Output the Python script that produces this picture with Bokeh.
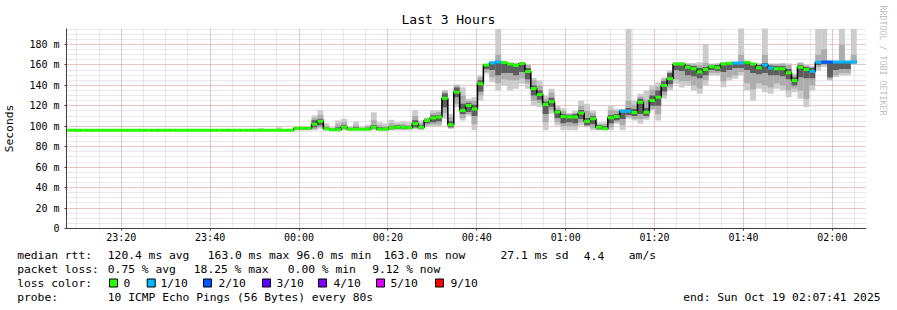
import numpy as np
from bokeh.plotting import figure
from bokeh.layouts import column
from bokeh.models import FixedTicker, Range1d, Title
from bokeh.core.properties import value
from bokeh.embed import file_html
from bokeh.resources import INLINE

# ---- time axis: minutes relative to 00:00 ----
x_start = -52.317   # 23:07:41
x_end = 127.683     # 02:07:41
first_step = -51.85
step_minutes = 80 / 60.0

x_ticks = [-40, -20, 0, 20, 40, 60, 80, 100, 120]
x_tick_labels = ["23:20", "23:40", "00:00", "00:20", "00:40", "01:00", "01:20", "01:40", "02:00"]
x_minor = list(range(-50, 130, 5))

y_ticks = [0, 20, 40, 60, 80, 100, 120, 140, 160, 180]
y_tick_labels = ["0", "20 m", "40 m", "60 m", "80 m", "100 m", "120 m", "140 m", "160 m", "180 m"]
y_minor = list(range(0, 200, 5))

# ---- data (ms), one value per 80 s step ----
median_ms = [96] * 38 + [
    98, 98, 98,
    102, 105, 97.5, 96.5, 96.5, 99, 97, 97, 97, 97,
    99, 97, 97, 98.5, 99, 99, 98.5, 102.4, 99, 105.6,
    108, 109, 127.5, 101.4, 133.4, 115.4, 120.3, 117, 141.5, 160,
    162, 163, 162.5, 161, 159.5, 161.4, 153.6, 137, 131, 121.3,
    124, 114, 109.6, 109, 109, 113, 105, 107.3, 99, 97.5,
    108.3, 109.6, 114.8, 114.8, 113.5, 123.6, 113.8, 125.2, 128.5, 140,
    146.4, 161, 161, 157.8, 156.2, 153, 155.6, 158.5, 157.2, 161,
    161.7, 162, 162, 162.7, 161, 157.2, 160, 157, 156.2, 156.2,
    152.3, 144.8, 157.8, 155.6, 153.9, 162.7, 163, 163, 163, 163,
    163, 163]

smoke_max = [96] * 32 + [98, 96, 96, 99, 96, 96] + [
    99, 98, 98.5,
    110.5, 116, 103, 99, 105.6, 107.3, 100, 104.7, 99, 101.4,
    113.8, 104, 103, 106.3, 104, 105, 104, 116, 105.6, 108,
    116, 116, 135.7, 112.2, 140.9, 138.2, 126.9, 128.5, 149.7, 161,
    164, 195.3, 162.5, 162, 162, 162, 161, 147.4, 144.8, 130,
    136.7, 120, 117.7, 113, 115, 125, 122, 115.4, 104, 104,
    120.3, 117, 117, 195.3, 125.2, 131.7, 135, 140, 143, 148,
    154.6, 162.7, 162.7, 162, 162, 162.7, 180.7, 161.5, 162, 162.7,
    162.7, 162.7, 196.3, 162.7, 162, 162, 196.3, 161.5, 161.5, 162,
    161.5, 151.3, 162.7, 160, 159, 195.3, 195.3, 163, 163, 195.3,
    163, 195.3]

smoke_min = [96] * 38 + [
    96, 96, 96,
    96, 97.5, 96, 96, 96, 96, 96, 96, 96, 96,
    96, 96, 96, 96, 96, 96, 96, 97, 96, 99,
    100, 99.8, 107.3, 97.5, 118.7, 105.6, 110.5, 96, 125.2, 151.3,
    143, 135, 140, 135, 136.6, 141.5, 136.6, 120.3, 118.7, 96,
    112.2, 100.8, 96, 96, 96, 100.8, 99, 96, 96, 96,
    96, 102.4, 96, 107.3, 105.6, 102.4, 106.3, 115.4, 105.6, 126.9,
    135, 141.5, 138, 140, 135, 131.7, 140, 149.7, 149.7, 138.2,
    144.8, 146.4, 149.7, 135, 125.2, 136.6, 133.4, 131.7, 136.6, 135,
    128.5, 133.4, 126.9, 118.7, 135, 154.6, 158, 144.8, 148, 149.7,
    149.7, 160]

mid_lo = [96] * 38 + [
    96, 96, 96,
    97, 99, 96, 96, 96, 97, 96, 96, 96, 96,
    97, 96, 96, 96.5, 97, 96.5, 97, 98, 97, 101,
    102, 102, 113, 98, 122, 108, 112, 102, 130, 153,
    148, 142, 146, 145, 145, 147, 142, 125, 123, 104,
    116, 104, 100, 100, 100, 104, 100, 98, 96.5, 96.5,
    99, 104, 101, 109, 107, 107, 108, 117, 112, 130,
    138, 146, 144, 144, 140, 137, 145, 152, 152, 144,
    148, 150, 153, 142, 136, 142, 140, 138, 142, 140,
    135, 137, 135, 127, 140, 158, 160, 146, 150, 152,
    152, 161]

core_lo = [96] * 38 + [
    97, 97, 97,
    99, 101, 96.5, 96, 96, 97.5, 96.5, 96.5, 96.5, 96.5,
    98, 96.5, 96.5, 97, 97.5, 97.5, 97.5, 99, 97.5, 103,
    104, 105, 118.7, 99, 128.5, 112, 114, 110, 134, 156,
    155, 150, 152, 152, 150, 153, 146, 130, 126, 112,
    119, 108, 103, 104, 103, 107, 101, 102, 97, 97,
    103, 106, 107, 111, 110, 112, 110, 120, 120, 134,
    141, 155, 154, 150, 149, 147, 150, 155, 154, 153,
    155, 157, 157, 155, 152, 151, 152, 150, 150, 149,
    146, 140, 148, 147, 147, 160, 161, 148, 155, 156,
    156, 162]

core_hi = [96] * 38 + [
    98.5, 98.5, 98.5,
    106, 107, 99, 97.5, 99, 101, 98, 99, 98, 98.5,
    101, 99, 98.5, 100, 101, 100.5, 100, 106, 101, 107,
    110.5, 111, 132, 105, 138, 122, 123, 121, 145, 161,
    162, 163, 162.5, 161.5, 160.5, 161.5, 157, 140, 135, 124,
    128, 116, 112, 111, 112, 116, 108, 110, 101, 100,
    111, 112, 116, 118, 117, 127, 118, 130, 135, 144,
    152, 162, 162, 160, 159, 157, 158, 160, 160, 162,
    162, 162.5, 162.5, 162.5, 162, 160, 162, 159.5, 159, 159,
    156, 148, 160, 158, 157, 163, 163, 162, 163, 163,
    163, 163]

mid_hi = [96] * 38 + [
    98.5, 98.5, 98.5,
    108, 111, 100, 98, 102, 104, 99, 101, 98.5, 100,
    106, 101, 100, 103, 102, 102, 101, 110, 103, 108,
    113, 114, 134, 109, 140, 130, 125, 125, 148, 161,
    163, 170, 162.5, 162, 161.5, 162, 160, 145, 140, 127,
    133, 118, 115, 112, 113, 120, 115, 113, 102, 102,
    116, 115, 116.5, 125, 121, 129, 126, 136, 139, 146,
    153, 162.5, 162.5, 161, 160.5, 160, 162, 161, 161, 162.5,
    162.5, 162.5, 170, 162.5, 162, 161, 170, 161, 161, 161,
    160, 150, 162, 159.5, 158, 170, 175, 163, 163, 180,
    163, 170]

loss_tenths = [0] * 133
for k in [71, 72, 93, 94, 112, 113, 117, 118, 125, 126, 129, 130, 131, 132]:
    loss_tenths[k] = 1
for k in [127, 128]:
    loss_tenths[k] = 2

loss_legend_labels = ["0", "1/10", "2/10", "3/10", "4/10", "5/10", "9/10"]
loss_legend_colors = ["#26ff00", "#00b8ff", "#0059ff", "#5e00ff", "#7e00ff", "#dd00ff", "#ff0000"]
loss_color_by_tenths = {0: "#26ff00", 1: "#00b8ff", 2: "#0059ff", 3: "#5e00ff", 4: "#7e00ff", 5: "#dd00ff", 9: "#ff0000"}

title_text = "Last 3 Hours"
y_axis_label = "Seconds"
credit_text = "RRDTOOL / TOBI OETIKER"
median_texts = ["median rtt:", "120.4 ms avg", "163.0 ms max", "96.0 ms min", "163.0 ms now",
                "27.1 ms sd", "4.4", "am/s"]
loss_texts = ["packet loss:", "0.75 % avg", "18.25 % max", "0.00 % min", "9.12 % now"]
loss_title = "loss color:"
probe_texts = ["probe:", "10 ICMP Echo Pings (56 Bytes) every 80s"]
end_text = "end: Sun Oct 19 02:07:41 2025"

# ---- layout (pixels) ----
W = 897
MONO = "DejaVu Sans Mono"
FS = "11.3px"
median_text_x = [16.7, 107.3, 207.3, 296, 383.3, 500, 583.3, 628.3]
loss_text_x = [16.7, 107.3, 193.3, 287.3, 371.7]
probe_text_x = [16.7, 107.3]
swatch_x = [109, 146.7, 203, 262, 318, 376, 435]
swatch_label_x = [123, 160, 218, 276, 333, 390, 450]
row_y = [8, 21.5, 35.5, 49.5]

# ---- main chart ----
p = figure(width=W, height=247, x_range=Range1d(x_start, x_end), y_range=Range1d(0, 195.65),
           output_backend="svg", toolbar_location=None, frame_align=False,
           min_border_left=66, min_border_right=31, min_border_top=28, min_border_bottom=19)
p.outline_line_color = None
p.background_fill_color = "white"
p.border_fill_color = "white"

n = len(median_ms)
edges = first_step + np.arange(n + 1) * step_minutes
edges[0] = x_start
left = edges[:-1]
right = edges[1:]

p.quad(left=left, right=right, bottom=smoke_min, top=smoke_max, fill_color="#cccccc", line_color=None)
p.quad(left=left, right=right, bottom=mid_lo, top=mid_hi, fill_color="#adadad", line_color=None)
p.quad(left=left, right=right, bottom=core_lo, top=core_hi, fill_color="#5e5e5e", line_color=None)

med = np.array(median_ms, dtype=float)
xs = np.repeat(edges, 2)[1:-1]
ys = np.repeat(med, 2)
p.line(xs, ys, line_color="black", line_width=1.5)

seg_colors = [loss_color_by_tenths[v] for v in loss_tenths]
p.segment(x0=left, y0=med, x1=right, y1=med, line_color=seg_colors, line_width=3)

xt = FixedTicker(ticks=x_ticks, minor_ticks=x_minor)
yt = FixedTicker(ticks=y_ticks, minor_ticks=y_minor)
p.xaxis.ticker = xt
p.yaxis.ticker = yt
p.xgrid.ticker = xt
p.ygrid.ticker = yt
p.xaxis.major_label_overrides = dict(zip(x_ticks, x_tick_labels))
p.yaxis.major_label_overrides = dict(zip(y_ticks, y_tick_labels))

for ax in (p.xaxis, p.yaxis):
    ax.axis_line_color = "#404040"
    ax.major_tick_line_color = "#404040"
    ax.major_tick_out = 2
    ax.major_tick_in = 0
    ax.minor_tick_out = 0
    ax.minor_tick_in = 0
    ax.major_label_text_font = MONO
    ax.major_label_text_font_size = "10px"
    ax.major_label_text_color = "black"
p.xaxis.major_label_standoff = 1
p.yaxis.major_label_standoff = 5
p.yaxis.axis_label = y_axis_label
p.yaxis.axis_label_text_font = MONO
p.yaxis.axis_label_text_font_size = FS
p.yaxis.axis_label_text_font_style = "normal"
p.yaxis.axis_label_text_color = "black"
p.yaxis.axis_label_standoff = 10

for g in (p.xgrid, p.ygrid):
    g.grid_line_color = "#ff0000"
    g.grid_line_alpha = 0.3
    g.grid_line_dash = "1 1"
    g.minor_grid_line_color = "#b0b0b0"
    g.minor_grid_line_alpha = 0.55
    g.minor_grid_line_dash = "1 1"

p.title.text = title_text
p.title.align = "left"
p.title.offset = 335
p.title.standoff = 4
p.title.text_font = MONO
p.title.text_font_size = "13px"
p.title.text_font_style = "normal"
p.title.text_color = "black"

p.add_layout(Title(text=credit_text, align="left", offset=-23, vertical_align="top", standoff=18,
                   text_font=MONO, text_font_size="8.3px", text_font_style="normal",
                   text_color="#c0c0c0"), "right")

# ---- legend strip below the chart ----
q = figure(width=W, height=63, x_range=Range1d(0, W), y_range=Range1d(63, 0),
           x_axis_type=None, y_axis_type=None, output_backend="svg", toolbar_location=None,
           min_border=0, frame_align=False)
q.outline_line_color = None
q.background_fill_color = "white"
q.border_fill_color = "white"
q.grid.visible = False

text_kw = dict(text_font=value(MONO), text_font_size=value(FS), text_color="black",
               text_baseline="middle", text_align="left")
q.text(x=median_text_x, y=[row_y[0]] * len(median_texts), text=median_texts, **text_kw)
q.text(x=loss_text_x, y=[row_y[1]] * len(loss_texts), text=loss_texts, **text_kw)
q.text(x=[16.7], y=[row_y[2]], text=[loss_title], **text_kw)
q.rect(x=[sx + 4 for sx in swatch_x], y=[row_y[2]] * len(swatch_x), width=8, height=8,
       fill_color=loss_legend_colors, line_color="black", line_width=1)
q.text(x=swatch_label_x, y=[row_y[2]] * len(loss_legend_labels), text=loss_legend_labels, **text_kw)
q.text(x=probe_text_x, y=[row_y[3]] * len(probe_texts), text=probe_texts, **text_kw)
q.text(x=[880], y=[row_y[3]], text=[end_text], text_font=value(MONO), text_font_size=value(FS),
       text_color="black", text_baseline="middle", text_align="right")

open("out.html", "w").write(file_html(column(p, q, spacing=0), INLINE))
